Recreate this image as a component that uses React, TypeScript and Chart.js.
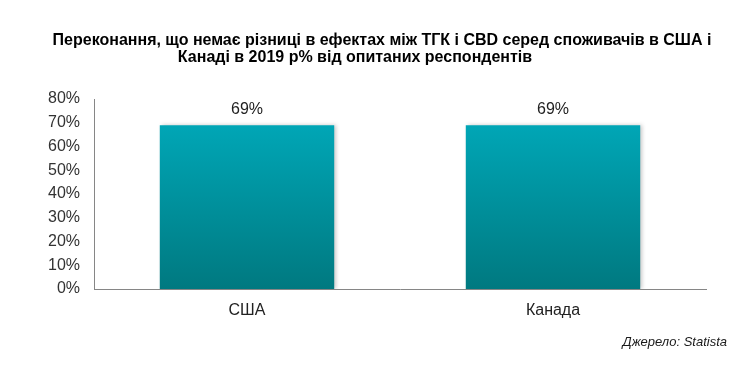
import React, { useEffect, useRef } from "react";
import { Chart, registerables } from "chart.js";

Chart.register(...registerables);

const titleLines = [
  "Переконання, що немає різниці в ефектах між ТГК і CBD серед споживачів в США і",
  "Канаді в 2019 р% від опитаних респондентів",
];
const categories = ["США", "Канада"];
const values = [69, 69];
const yMax = 80;
const yStep = 10;
const sourceText = "Джерело: Statista";

const FONT = "'Liberation Sans', Arial, sans-serif";

export default function App() {
  const ref = useRef<HTMLCanvasElement | null>(null);

  useEffect(() => {
    const canvas = ref.current;
    if (!canvas) return;

    const overlay = {
      id: "overlay",
      beforeDatasetsDraw(chart: any) {
        const ctx = chart.ctx;
        ctx.save();
        ctx.shadowColor = "rgba(0,0,0,0.22)";
        ctx.shadowBlur = 4;
        ctx.shadowOffsetX = 2;
        ctx.shadowOffsetY = 0;
      },
      afterDatasetsDraw(chart: any) {
        const ctx = chart.ctx;
        ctx.restore();
        ctx.save();
        ctx.fillStyle = "#222222";
        ctx.font = `16px ${FONT}`;
        ctx.textAlign = "center";
        ctx.textBaseline = "alphabetic";
        const meta = chart.getDatasetMeta(0);
        meta.data.forEach((bar: any, i: number) => {
          ctx.fillText(values[i] + "%", bar.x, bar.y - 11);
        });
        ctx.restore();
      },
      afterDraw(chart: any) {
        const ctx = chart.ctx;
        ctx.save();
        ctx.fillStyle = "#000000";
        ctx.textBaseline = "alphabetic";
        ctx.textAlign = "center";
        ctx.font = `bold 16px ${FONT}`;
        ctx.fillText(titleLines[0], 382, 45);
        ctx.fillText(titleLines[1], 355, 62);
        ctx.font = `italic 13px ${FONT}`;
        ctx.textAlign = "right";
        ctx.textBaseline = "middle";
        ctx.fillStyle = "#1a1a1a";
        ctx.fillText(sourceText, 727, 342);
        ctx.restore();
      },
    };

    const chart = new Chart(canvas, {
      type: "bar",
      data: {
        labels: categories,
        datasets: [
          {
            data: values,
            backgroundColor: (c: any) => {
              const ch = c.chart;
              const area = ch.chartArea;
              if (!area) return "#00a0ad";
              const yTop = ch.scales.y.getPixelForValue(Math.max(...values));
              const g = ch.ctx.createLinearGradient(0, yTop, 0, area.bottom);
              g.addColorStop(0, "#00a6b6");
              g.addColorStop(1, "#007980");
              return g;
            },
            borderWidth: 0,
            barPercentage: 0.57,
            categoryPercentage: 1,
          },
        ],
      },
      options: {
        animation: false,
        responsive: false,
        maintainAspectRatio: false,
        layout: { padding: { top: 99, right: 49, bottom: 39, left: 0 } },
        plugins: {
          legend: { display: false },
          title: { display: false },
          tooltip: { enabled: false },
        },
        scales: {
          x: {
            grid: { display: false, drawTicks: false },
            border: { display: true, color: "#868686", width: 1 },
            ticks: {
              color: "#222222",
              font: { family: FONT, size: 16 },
              padding: 12,
            },
            afterFit: (s: any) => {
              s.height = 40;
            },
          },
          y: {
            min: 0,
            max: yMax,
            grid: { display: false, drawTicks: false },
            border: { display: true, color: "#868686", width: 1 },
            ticks: {
              stepSize: yStep,
              color: "#333333",
              font: { family: FONT, size: 16 },
              padding: 14,
              callback: (v: any) => v + "%",
            },
            afterFit: (s: any) => {
              s.width = 94;
            },
          },
        },
      },
      plugins: [overlay],
    } as any);

    return () => chart.destroy();
  }, []);

  return (
    <div style={{ position: "fixed", left: 0, top: 0, width: 755, height: 368, background: "#fff" }}>
      <canvas ref={ref} width={755} height={368} style={{ display: "block", width: 755, height: 368 }} />
    </div>
  );
}
